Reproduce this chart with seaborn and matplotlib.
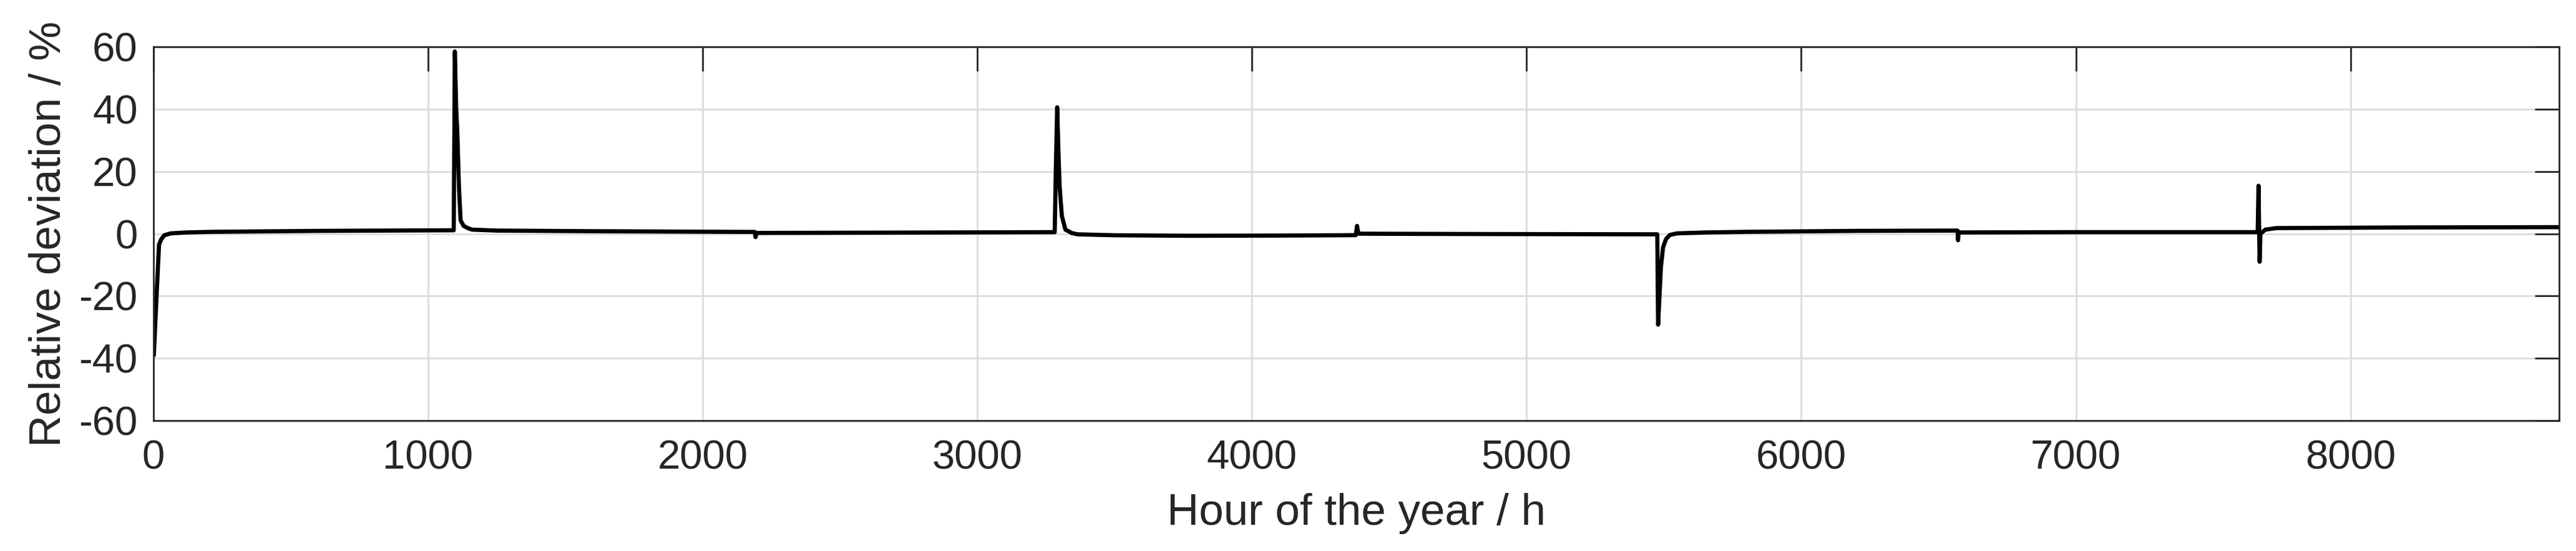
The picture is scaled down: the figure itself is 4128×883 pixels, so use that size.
import matplotlib
matplotlib.use("Agg")
import matplotlib.pyplot as plt
import numpy as np
import seaborn as sns

# hour of the year (anchor points)
hours = [
    0, 2, 12, 21, 29, 40, 63, 120, 215, 600, 1094,
    1098, 1103, 1107, 1113, 1119, 1130, 1145, 1161, 1250, 1600,
    2190, 2193, 2196, 2700, 3282,
    3286, 3291, 3296, 3300, 3308, 3321, 3345, 3365, 3500, 3774, 4100,
    4378, 4383, 4387, 4390, 4800, 5476,
    5479, 5489, 5497, 5508, 5522, 5547, 5653, 5804, 6200, 6569,
    6571, 6573, 7000, 7662,
    7665, 7669, 7672, 7690, 7730, 8200, 8760,
]
# relative deviation in %
deviation = [
    -31.0, -39.0, -20.0, -3.5, -1.8, -0.5, 0.1, 0.4, 0.6, 0.9, 1.1,
    58.5, 40.0, 32.6, 15.0, 4.3, 2.5, 1.8, 1.3, 1.0, 0.8,
    0.56, -1.1, 0.24, 0.35, 0.5,
    20.0, 40.6, 25.0, 15.0, 5.7, 1.3, 0.2, -0.2, -0.5, -0.67, -0.6,
    -0.47, 2.5, 0.3, 0.0, -0.1, -0.2,
    -29.2, -11.0, -4.4, -1.7, -0.4, 0.1, 0.4, 0.6, 0.9, 1.0,
    -2.1, 0.4, 0.5, 0.5,
    15.4, -9.0, 0.0, 1.3, 1.8, 2.0, 2.1,
]

x_ticks = [0, 1000, 2000, 3000, 4000, 5000, 6000, 7000, 8000]
y_ticks = [-60, -40, -20, 0, 20, 40, 60]

sns.set_style("white")
plt.rcParams["font.family"] = ["Liberation Sans", "DejaVu Sans"]
plt.rcParams["axes.unicode_minus"] = False  # plain hyphen like the original
text_color = "#262626"

fig = plt.figure(figsize=(20.64, 4.415), dpi=200)
ax = fig.add_axes([0.0595, 0.2367, 0.934, 0.6783])

sns.lineplot(x=hours, y=deviation, color="black", linewidth=2.4, ax=ax)

ax.set_xlim(0, 8760)
ax.set_ylim(-60, 60)
ax.set_xticks(x_ticks)
ax.set_yticks(y_ticks)

ax.grid(True, color="#dcdcdc", linewidth=1.0)
ax.set_axisbelow(True)
for spine in ax.spines.values():
    spine.set_visible(True)
    spine.set_color(text_color)
    spine.set_linewidth(1.0)

ax.tick_params(
    axis="both", direction="in", length=14, width=1.0, color=text_color,
    labelsize=23.5, labelcolor=text_color, pad=9,
    top=True, right=True,
)
ax.tick_params(axis="x", pad=11)

ax.set_xlabel("Hour of the year / h", fontsize=25.5, color=text_color, labelpad=9)
ax.set_ylabel("Relative deviation / %", fontsize=25.5, color=text_color, labelpad=5)

fig.savefig("out.png", dpi=200)
